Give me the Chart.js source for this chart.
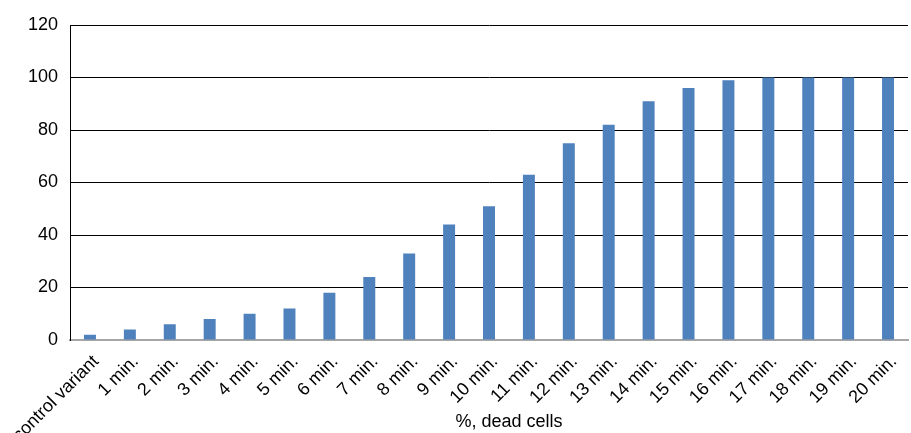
<!DOCTYPE html>
<html>
<head>
<meta charset="utf-8">
<script src="https://cdn.jsdelivr.net/npm/chart.js@4"></script>
<style>
  html, body { margin: 0; padding: 0; background: #fff; }
  #wrap { width: 911px; height: 433px; }
</style>
</head>
<body>
<div id="wrap"><canvas id="chart"></canvas></div>
<script>
// categories and values
const categories = ['control variant', '1 min.', '2 min.', '3 min.', '4 min.', '5 min.', '6 min.',
  '7 min.', '8 min.', '9 min.', '10 min.', '11 min.', '12 min.', '13 min.', '14 min.', '15 min.',
  '16 min.', '17 min.', '18 min.', '19 min.', '20 min.'];
const deadCells = [2, 4, 6, 8, 10, 12, 18, 24, 33, 44, 51, 63, 75, 82, 91, 96, 99, 100, 100, 100, 100];
const yTicks = [0, 20, 40, 60, 80, 100, 120];
const xTitle = '%, dead cells';

Chart.defaults.font.family = '"Liberation Sans", Arial, sans-serif';
Chart.defaults.font.size = 18;
Chart.defaults.color = '#000';

// the axis title sits a little right of the plot centre in the original
const shiftTitle = {
  id: 'shiftTitle',
  beforeInit(chart) {
    const orig = Chart.CategoryScale.prototype.drawTitle;
    chart.options.scales.x.afterUpdate = scale => {
      scale.drawTitle = function () {
        const c = this.ctx;
        c.save();
        c.translate(20, 0);
        orig.call(this);
        c.restore();
      };
    };
  }
};

const ctx = document.getElementById('chart').getContext('2d');
new Chart(ctx, {
  type: 'bar',
  data: {
    labels: categories,
    datasets: [{
      data: deadCells,
      backgroundColor: '#4F81BD',
      borderWidth: 0,
      barPercentage: 0.6,
      categoryPercentage: 0.5
    }]
  },
  plugins: [shiftTitle],
  options: {
    responsive: true,
    maintainAspectRatio: false,
    animation: false,
    layout: { padding: { left: 0, right: 3, top: 25, bottom: 0 } },
    plugins: {
      legend: { display: false },
      tooltip: { enabled: false }
    },
    scales: {
      x: {
        grid: { display: false, drawTicks: false },
        border: { color: '#A6A6A6', width: 2 },
        ticks: { minRotation: 45, maxRotation: 45, autoSkip: false, padding: 11, labelOffset: 6 },
        title: { display: true, text: xTitle, font: { size: 18 }, padding: { top: 0, bottom: 0 } },
        afterFit: scale => { scale.height = 93; scale.paddingLeft = 0; scale.paddingRight = 0; }
      },
      y: {
        min: 0,
        max: 120,
        afterBuildTicks: scale => { scale.ticks = yTicks.map(v => ({ value: v })); },
        afterFit: scale => { scale.width = 70; scale.paddingTop = 0; },
        grid: { color: '#000', drawTicks: false },
        border: { color: '#000' },
        ticks: { padding: 12 }
      }
    }
  }
});
</script>
</body>
</html>
